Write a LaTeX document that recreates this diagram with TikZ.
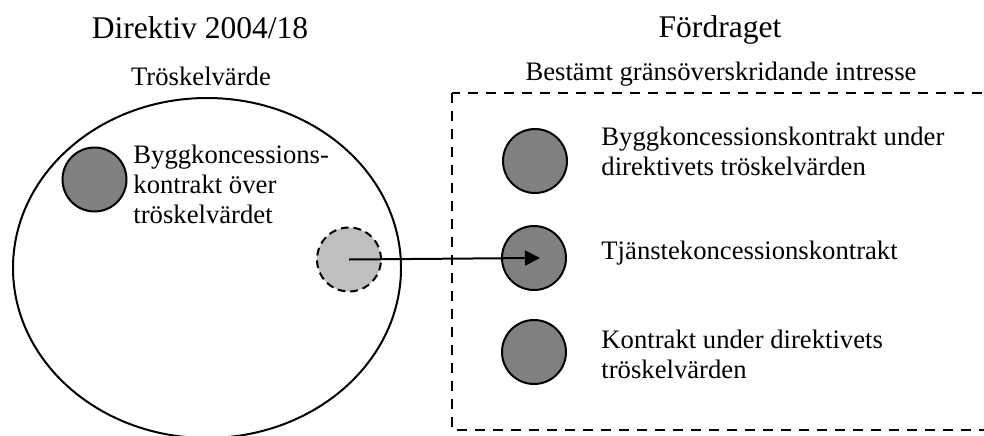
\documentclass[tikz,border=0pt]{standalone}
\usepackage{fontspec}
\setmainfont{Liberation Serif}
\usetikzlibrary{positioning, arrows.meta}
\tikzset{disc/.style={circle, draw, line width=0.9pt, fill=black!50, minimum size=28.8pt, inner sep=0pt}}
\tikzset{discdash/.style={disc, fill=black!25, dash pattern=on 3.5pt off 2.2pt}}
\tikzset{lbl/.style={inner sep=0pt, anchor=base west, align=left, font=\fontsize{12}{13.5}\selectfont}}
\tikzset{head/.style={inner sep=0pt, anchor=base, font=\fontsize{14.2}{17}\selectfont}}
\tikzset{arr/.style={draw, line width=0.9pt, -{Triangle[length=6.75pt, width=6.75pt]}}}

\begin{document}
\begin{tikzpicture}[x=0.45pt, y=0.45pt]
			\useasboundingbox (0,0) rectangle (984,435);
			% headings
			\node[head] (dir) at (200,397) {Direktiv 2004/18};
			\node[head] (ford) at (720,398) {Fördraget};
			\node[lbl, anchor=base] (trosk) at (201,350) {Tröskelvärde};
			\node[lbl, anchor=base] (best) at (721,355) {Bestämt gränsöverskridande intresse};
			%
			% left side: the directive (base = last line)
			\draw[line width=0.9pt] (207,167) ellipse [x radius=194, y radius=170];
			\node[disc] (bygg) at (94.5,255.5) {};
			\node[lbl] (byggtxt) at (133,212) {Byggkoncessions-\\kontrakt över\\tröskelvärdet};
			\node[discdash] (tj0) at (349,175.5) {};
			%
			% right side: the treaty
			\draw[line width=0.9pt, dash pattern=on 4.5pt off 3.6pt] (452,342) rectangle (992,5);
			\node[disc] (byggu) at (535,274) {};
			\node[disc] (tj) at (534,177) {};
			\node[disc] (kon) at (534,83) {};
			\node[lbl] (byggutxt) at (601,260) {Byggkoncessionskontrakt under\\direktivets tröskelvärden};
			\node[lbl] (tjtxt) at (601,176) {Tjänstekoncessionskontrakt};
			\node[lbl] (kontxt) at (601,57) {Kontrakt under direktivets\\tröskelvärden};
			%
			\draw[arr, shorten >=-2.7pt] (tj0.center) -- (tj.center);
		\end{tikzpicture}
\end{document}
